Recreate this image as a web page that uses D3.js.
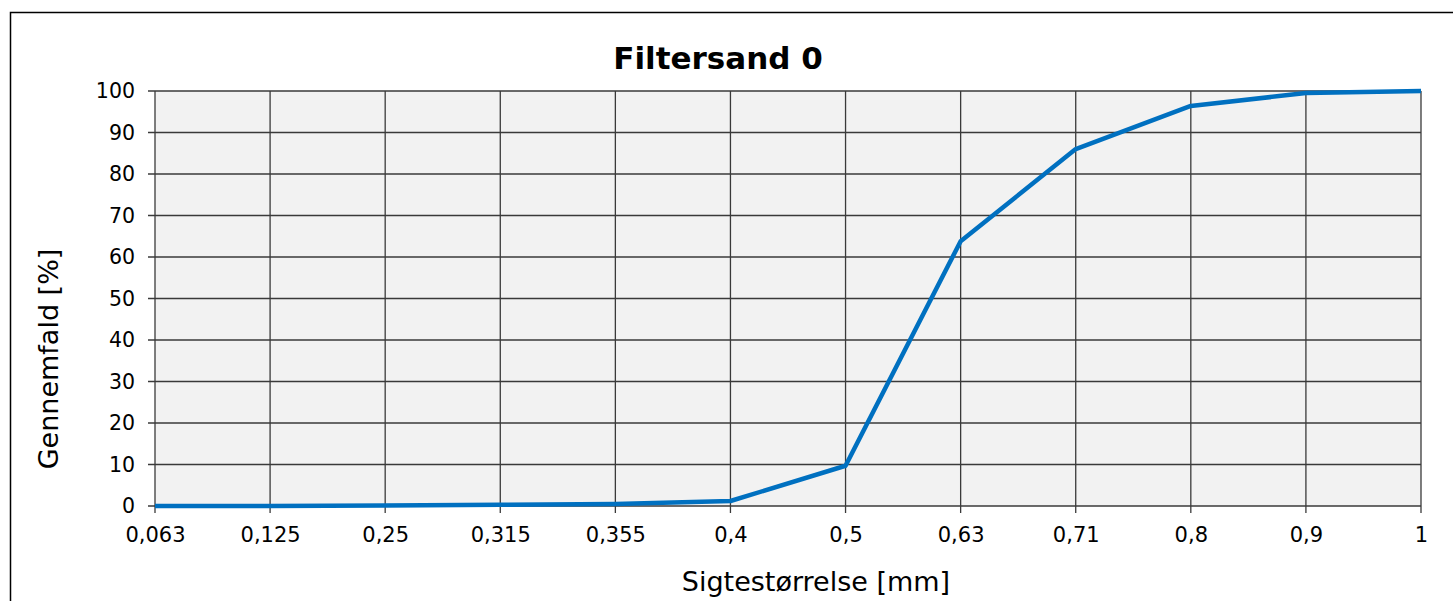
<!DOCTYPE html>
<html><head><meta charset="utf-8">
<script src="https://cdn.jsdelivr.net/npm/d3@7/dist/d3.min.js"></script>
<style>body{margin:0;background:#fff;}svg{display:block;font-family:"DejaVu Sans",Verdana,sans-serif;}</style>
</head><body>
<svg id="c" width="1453" height="601"></svg>
<script>
const categories = ["0,063","0,125","0,25","0,315","0,355","0,4","0,5","0,63","0,71","0,8","0,9","1"];
const passing = [0, 0, 0.1, 0.3, 0.5, 1.2, 9.7, 63.8, 86.0, 96.4, 99.5, 100];
const yTicks = [0,10,20,30,40,50,60,70,80,90,100];
const title = "Filtersand 0";
const xTitle = "Sigtestørrelse [mm]";
const yTitle = "Gennemfald [%]";

const svg = d3.select("#c");
const L = 155, R = 1421, T = 91, B = 506;

svg.append("rect").attr("x",10.5).attr("y",12.5).attr("width",1452).attr("height",600)
  .attr("fill","#fff").attr("stroke","#000").attr("stroke-width",1.5);

const x = d3.scalePoint().domain(categories).range([L, R]);
const y = d3.scaleLinear().domain([0,100]).range([B, T]);

svg.append("rect").attr("x",L).attr("y",T).attr("width",R-L).attr("height",B-T).attr("fill","#f2f2f2");

const g = svg.append("g");
g.selectAll(".hg").data(yTicks).join("line")
  .attr("x1",L-7).attr("x2",R).attr("y1",d=>y(d)).attr("y2",d=>y(d))
  .attr("stroke","#3a3a3a").attr("stroke-width",1.3);
g.selectAll(".vg").data(categories).join("line")
  .attr("x1",d=>x(d)).attr("x2",d=>x(d)).attr("y1",T).attr("y2",B+7)
  .attr("stroke","#3a3a3a").attr("stroke-width",1.3);

const xAxis = svg.append("g").attr("transform",`translate(0,${B})`)
  .call(d3.axisBottom(x).tickSize(0).tickPadding(21));
xAxis.select(".domain").remove();
xAxis.selectAll("text").attr("font-size",21).attr("fill","#000").attr("font-family","DejaVu Sans");

const yAxis = svg.append("g").attr("transform",`translate(${L},0)`)
  .call(d3.axisLeft(y).tickValues(yTicks).tickSize(0).tickPadding(20));
yAxis.select(".domain").remove();
yAxis.selectAll("text").attr("font-size",20.5).attr("fill","#000").attr("font-family","DejaVu Sans");

const line = d3.line().x((d,i)=>x(categories[i])).y(d=>y(d));
svg.append("path").datum(passing).attr("d",line).attr("fill","none")
  .attr("stroke","#0070c0").attr("stroke-width",4.5).attr("stroke-linejoin","round");

svg.append("text").attr("x",718).attr("y",69).attr("text-anchor","middle")
  .attr("font-size",31).attr("font-weight","bold").text(title);
svg.append("text").attr("x",816).attr("y",591).attr("text-anchor","middle")
  .attr("font-size",27).text(xTitle);
svg.append("text").attr("transform","translate(58,359) rotate(-90)").attr("text-anchor","middle")
  .attr("font-size",27).text(yTitle);
</script>
</body></html>
